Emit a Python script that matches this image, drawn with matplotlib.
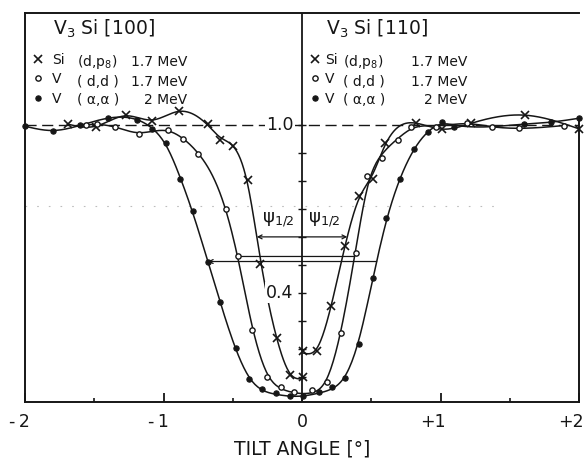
import numpy as np
import matplotlib.pyplot as plt
from matplotlib.legend import Legend
from matplotlib.transforms import ScaledTranslation

ink = '#161616'

# Si(d,p8) 1.7 MeV -- left half is the [100] scan, right half the [110] scan
si_100_x = [-1.69, -1.49, -1.27, -1.08, -0.89, -0.68, -0.59, -0.50, -0.39, -0.30, -0.18, -0.09, 0.01]
si_100_y = [1.003, 0.994, 1.035, 1.015, 1.050, 1.002, 0.946, 0.926, 0.803, 0.503, 0.238, 0.105, 0.100]
si_110_x = [0.01, 0.11, 0.21, 0.31, 0.41, 0.51, 0.60, 0.82, 1.01, 1.22, 1.61, 2.00]
si_110_y = [0.192, 0.192, 0.354, 0.567, 0.747, 0.807, 0.937, 1.006, 0.984, 1.006, 1.035, 0.986]

# V(d,d) 1.7 MeV
vdd_100_x = [-1.56, -1.48, -1.35, -1.18, -0.97, -0.86, -0.75, -0.55, -0.46, -0.36, -0.25, -0.15, -0.06]
vdd_100_y = [0.999, 1.003, 0.994, 0.968, 0.982, 0.950, 0.896, 0.699, 0.532, 0.267, 0.100, 0.065, 0.047]
vdd_110_x = [0.07, 0.18, 0.28, 0.39, 0.47, 0.58, 0.69, 0.79, 0.97, 1.19, 1.37, 1.57, 1.89]
vdd_110_y = [0.053, 0.080, 0.258, 0.541, 0.819, 0.881, 0.945, 0.991, 0.994, 1.006, 0.993, 0.988, 0.998]

# V(alpha,alpha) 2 MeV
vaa_100_x = [-2.00, -1.80, -1.60, -1.40, -1.19, -1.08, -0.98, -0.88, -0.79, -0.68, -0.59, -0.48, -0.38,
             -0.29, -0.19, -0.09, 0.01]
vaa_100_y = [0.996, 0.979, 0.999, 1.024, 1.018, 0.984, 0.934, 0.807, 0.691, 0.511, 0.368, 0.202, 0.091,
             0.055, 0.041, 0.031, 0.031]
vaa_110_x = [0.12, 0.22, 0.31, 0.41, 0.51, 0.61, 0.71, 0.81, 0.91, 1.01, 1.10, 1.60, 1.80, 2.00]
vaa_110_y = [0.045, 0.063, 0.097, 0.217, 0.454, 0.666, 0.808, 0.913, 0.973, 1.010, 0.994, 1.003, 1.010, 1.024]

x_ticks = [-2, -1, 0, 1, 2]
x_labels = ['-\u20092', '-\u20091', '0', '+1', '+2']
y_ticks = np.arange(0.1, 1.01, 0.1)
legend_names = ['Si', 'V', 'V']
reactions = ['(d,p$_8$)', '( d,d )', '( α,α )']
energies = ['1.7 MeV', '1.7 MeV', '2 MeV']


def smooth(xs, ys, p=1e-4, n=401):
    # penalised spline on a fine grid (second-difference roughness penalty)
    xs = np.asarray(xs, float)
    ys = np.asarray(ys, float)
    grid = np.linspace(xs.min(), xs.max(), n)
    dx = grid[1] - grid[0]
    pos = (xs - grid[0]) / dx
    i0 = np.clip(np.floor(pos).astype(int), 0, n - 2)
    t = pos - i0
    B = np.zeros((len(xs), n))
    B[np.arange(len(xs)), i0] = 1 - t
    B[np.arange(len(xs)), i0 + 1] = t
    D = np.diff(np.eye(n), 2, axis=0)
    f = np.linalg.solve(B.T @ B + p / dx ** 3 * D.T @ D, B.T @ ys)
    return grid, f


def crossing(gx, gy, level, left):
    m = gx < 0 if left else gx > 0
    cx, cy = gx[m], gy[m] - level
    idx = np.where(np.sign(cy[:-1]) != np.sign(cy[1:]))[0]
    k = idx[-1] if left else idx[0]
    return cx[k] - cy[k] * (cx[k + 1] - cx[k]) / (cy[k + 1] - cy[k])


fig = plt.figure(figsize=(5.86, 4.58), dpi=100)
ax = fig.add_axes([25 / 586, 56 / 458, 554 / 586, 389 / 458])
ax.set_xlim(-2, 2)
ax.set_ylim(0.01, 1.40)

# curves
si_l = smooth(si_100_x, si_100_y, p=4e-5)
si_r = smooth(si_110_x, si_110_y, p=4e-5)
vdd = smooth(vdd_100_x + vdd_110_x, vdd_100_y + vdd_110_y)
vaa = smooth(vaa_100_x + vaa_110_x, vaa_100_y + vaa_110_y)
for gx, gy in [si_l, si_r, vdd, vaa]:
    ax.plot(gx, gy, color=ink, lw=1.1, zorder=3)

h_si, = ax.plot(si_100_x + si_110_x, si_100_y + si_110_y, 'x', ms=5.5, mew=1.2,
                color=ink, zorder=4, clip_on=False)
h_dd, = ax.plot(vdd_100_x + vdd_110_x, vdd_100_y + vdd_110_y, 'o', ms=3.8, mew=1.0,
                mfc='white', mec=ink, zorder=4, clip_on=False)
h_aa, = ax.plot(vaa_100_x + vaa_110_x, vaa_100_y + vaa_110_y, 'o', ms=3.8, mew=0.8,
                mfc=ink, mec=ink, zorder=4, clip_on=False)

# reference level and faint guide line
ax.axhline(1.0, color=ink, lw=1.0, ls=(0, (8, 4)), zorder=2)
ax.plot([-2, 1.45], [0.71, 0.71], color='#bdbdbd', lw=0.8, ls=(0, (1.5, 9)), zorder=1)

# central axis at zero tilt
ax.axvline(0, color=ink, lw=1.3, zorder=3)
ax.hlines(y_ticks, -0.026, 0.026, color=ink, lw=1.0, zorder=3)
for v in [1.0, 0.4]:
    ax.text(-0.062, v, f'{v:.1f}', ha='right', va='center', fontsize=12.5, color=ink, zorder=5,
            bbox=dict(facecolor='white', edgecolor='none', pad=1.0))

# half widths
for (gx, gy), (hx, hy), level, style in [(si_l, si_r, 0.60, '<->'), (vdd, vdd, 0.53, '-'),
                                          (vaa, vaa, 0.512, '<-')]:
    x0 = crossing(gx, gy, level, True)
    x1 = crossing(hx, hy, level, False)
    ax.annotate('', xy=(x1, level), xytext=(x0, level),
                arrowprops=dict(arrowstyle=style, lw=0.9, color=ink, shrinkA=0, shrinkB=0,
                                mutation_scale=7), zorder=3)
ax.text(-0.29, 0.66, 'ψ$_{1/2}$', ha='left', va='center', fontsize=13, color=ink)
ax.text(0.045, 0.66, 'ψ$_{1/2}$', ha='left', va='center', fontsize=13, color=ink)

# panel titles and legends
ax.text(0.0505, 0.958, 'V$_3$ Si [100]', transform=ax.transAxes, fontsize=13.5, color=ink,
        va='center', ha='left')
ax.text(0.543, 0.958, 'V$_3$ Si [110]', transform=ax.transAxes, fontsize=13.5, color=ink,
        va='center', ha='left')

rows_y = [0.874, 0.823, 0.776]
for anchor, pad, react_x, energy_x in [(0.0135, 0.6, 0.0939, 0.2924), (0.514, 0.3, 0.574, 0.798)]:
    leg = Legend(ax, [h_si, h_dd, h_aa], legend_names, loc='upper left',
                 bbox_to_anchor=(anchor, 0.897), frameon=False, fontsize=10,
                 handlelength=0.8, handletextpad=pad, labelspacing=0.38, borderpad=0,
                 borderaxespad=0, labelcolor=ink)
    ax.add_artist(leg)
    for ry, r, e in zip(rows_y, reactions, energies):
        ax.text(react_x, ry, r, transform=ax.transAxes, fontsize=10, color=ink, va='center')
        ax.text(energy_x, ry, e, transform=ax.transAxes, fontsize=10, color=ink, va='center',
                ha='right')

# frame and x axis
for s in ax.spines.values():
    s.set_linewidth(1.4)
    s.set_color(ink)
ax.spines['right'].set_bounds(0.01, 1.02)
ax.set_yticks([])
ax.set_xticks(x_ticks, x_labels)
ax.set_xticks([-1.5, -0.5, 0.5, 1.5], minor=True)
ax.tick_params(axis='x', which='major', direction='in', length=6.5, width=1.3, pad=8,
               labelsize=12.5, colors=ink)
ax.tick_params(axis='x', which='minor', direction='in', length=3, width=1.2, colors=ink)
# signed labels: digit sits on the tick, sign hangs to the left
nudge = ScaledTranslation(0.05, 0, fig.dpi_scale_trans)
for lab, val in zip(ax.get_xticklabels(), x_ticks):
    if val != 0:
        lab.set_horizontalalignment('right')
        lab.set_transform(lab.get_transform() + nudge)
ax.set_xlabel('TILT ANGLE [°]', fontsize=13.5, color=ink, labelpad=6)

fig.savefig('out.png', dpi=100)
